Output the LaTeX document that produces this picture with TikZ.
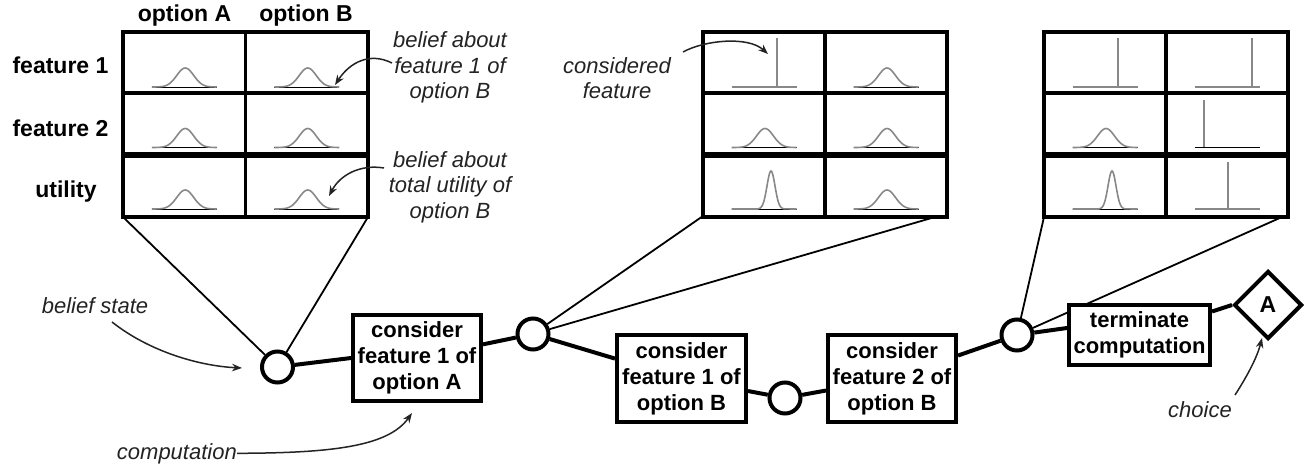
\documentclass[tikz,border=0pt]{standalone}
\usepackage{fontspec}
\setmainfont{Liberation Sans}
\newfontfamily\annotfont{Liberation Sans Italic}
\usetikzlibrary{arrows.meta,shapes.geometric}
\pgfdeclarelayer{background}
\pgfsetlayers{background,main}
\definecolor{curvegray}{RGB}{136,136,136}
\definecolor{annotcol}{RGB}{35,35,35}

\newcommand\gausscell[5]{%
  \pgfmathsetmacro\gdom{3.5*#4}%
  \draw[axisline] ({#1-32.5},#2) -- ({#1+32.5},#2);
  \draw[curve] ({#1-32.5},#2) -- ({#1+#3-\gdom},#2)
     -- plot[domain=-\gdom:\gdom, samples=41, smooth] ({#1+#3+\x},{#2-#5*exp(-(\x*\x)/(2*#4*#4))})
     -- ({#1+32.5},#2);
}
\newcommand\spikecell[5]{%
  \draw[#5] ({#1-32.5},#2) -- ({#1+32.5},#2);
  \draw[curve] ({#1+#3},#2) -- ({#1+#3},{#2-#4});
}
\newcommand\drawgridframe[3]{%
  \draw[gridline] (#1,32) rectangle (#2,217);
  \draw[gridline] (#3,32) -- (#3,217);
  \draw[gridline] (#1,93) -- (#2,93);
  \draw[gridline, line width=6pt] (#1,155.5) -- (#2,155.5);
}

\begin{document}
\begin{tikzpicture}[x=1pt, y=-1pt,
  gridline/.style={line width=3.5pt},
  axisline/.style={line width=0.7pt, black},
  curve/.style={line width=1.6pt, curvegray},
  state/.style={circle, draw, fill=white, line width=4pt, minimum size=31pt, inner sep=0pt},
  comp/.style={draw, fill=white, line width=4pt, inner sep=0pt, align=center, font=\fontsize{22}{26}\selectfont\bfseries},
  choicenode/.style={diamond, aspect=1, draw, fill=white, line width=4pt, minimum width=68pt, minimum height=68pt, inner sep=0pt, font=\fontsize{23}{26}\selectfont\bfseries},
  hdr/.style={font=\fontsize{23}{26}\selectfont\bfseries, inner sep=0pt, anchor=base},
  annot/.style={font=\annotfont\fontsize{22}{25.5}\selectfont, text=annotcol, align=center, inner sep=0pt},
  link/.style={line width=4pt},
  zoomline/.style={line width=1.8pt},
  note/.style={line width=1.5pt, annotcol, -{Stealth[length=10pt, width=7.5pt]}}
]
\useasboundingbox (0,0) rectangle (1312,468);

% headers and row labels
\node[hdr] (hA) at (184.5,22) {option A};
\node[hdr] (hB) at (306,22) {option B};
\node[hdr] (r1) at (60.5,74) {feature 1};
\node[hdr] (r2) at (60.5,137) {feature 2};
\node[hdr] (r3) at (66,197) {utility};

% grids
\drawgridframe{123}{368}{245.5}
\drawgridframe{703}{947}{825}
\drawgridframe{1044}{1288}{1166}

% grid 1 cells
\gausscell{184.25}{87}{1}{8.5}{19}
\gausscell{306.75}{87}{1}{8.5}{19}
\gausscell{184.25}{147.5}{1}{8.5}{19}
\gausscell{306.75}{147.5}{1}{8.5}{19}
\gausscell{184.25}{209}{1}{8.5}{19}
\gausscell{306.75}{209}{1}{8.5}{19}
% grid 2 cells
\spikecell{764}{87}{13}{49}{curve}
\gausscell{886}{87}{1}{8.5}{19}
\gausscell{764}{147.5}{1}{8.5}{19}
\gausscell{886}{147.5}{1}{8.5}{19}
\gausscell{764}{209}{7}{4}{38}
\gausscell{886}{209}{1}{8.5}{19}
% grid 3 cells
\spikecell{1105}{87}{13}{49}{curve}
\spikecell{1227}{87}{25}{49}{curve}
\gausscell{1105}{147.5}{1}{8.5}{19}
\spikecell{1227}{147.5}{-23}{47}{axisline}
\gausscell{1105}{209}{7}{4}{38}
\spikecell{1227}{209}{1}{47}{curve}

% grid corners
\coordinate (g1l) at (123,217);
\coordinate (g1r) at (368,217);
\coordinate (g2l) at (703,216);
\coordinate (g2r) at (935,217);
\coordinate (g3l) at (1044,217);
\coordinate (g3r) at (1282,217);

% process nodes
\node[state] (c1) at (277.5,367) {};
\node[comp, minimum width=128pt, minimum height=86pt] (b1) at (417,358) {consider\\feature 1 of\\option A};
\node[state] (c2) at (533,334) {};
\node[comp, minimum width=129pt, minimum height=87pt] (b2) at (681.5,378.5) {consider\\feature 1 of\\option B};
\node[state] (c3) at (785,398) {};
\node[comp, minimum width=128pt, minimum height=87pt] (b3) at (892,378.5) {consider\\feature 2 of\\option B};
\node[state] (c4) at (1017,335) {};
\node[comp, minimum width=141pt, minimum height=60pt] (b4) at (1139.5,335) {terminate\\computation};
\node[choicenode] (d) at (1268,305) {A};

% zoom lines
\begin{pgfonlayer}{background}
\draw[zoomline] (g1l) -- (c1);
\draw[zoomline] (g1r) -- (c1);
\draw[zoomline] (g2l) -- (c2);
\draw[zoomline] (g2r) -- (c2);
\draw[zoomline] (g3l) -- (c4);
\draw[zoomline] (g3r) -- (c4);
\end{pgfonlayer}

% links
\draw[link] (c1) -- (b1.west);
\draw[link] (b1) -- (c2);
\draw[link] (c2) -- (b2);
\draw[link] (b2) -- (c3);
\draw[link] (c3) -- (b3);
\draw[link] (b3) -- (c4);
\draw[link] (c4) -- ([yshift=7pt]b4.west);
\draw[link] (b4) -- (d.west);

% annotations
\node[annot] (n1) at (450,67.5) {belief about\\feature 1 of\\option B};
\node[annot] (n2) at (450,187) {belief about\\total utility of\\option B};
\node[annot] (n3) at (617,78) {considered\\feature};
\node[annot, anchor=base] (n4) at (95,313) {belief state};
\node[annot, anchor=base east] (n5) at (237,459) {computation};
\node[annot, anchor=base] (n6) at (1200,417) {choice};

\coordinate (s1) at (392,63);
\coordinate (t1) at (335,85);
\coordinate (s2) at (384,168);
\coordinate (t2) at (329,196);
\coordinate (s3) at (683,52);
\coordinate (t3) at (768,54);
\coordinate (s4) at (112,322);
\coordinate (t4) at (242,368);
\coordinate (t5) at (412,413);
\coordinate (s6) at (1235,395);
\coordinate (t6) at (1262,338);

\draw[note] (s1) .. controls (370,52) and (350,62) .. (t1);
\draw[note] (s2) .. controls (360,164) and (340,175) .. (t2);
\draw[note] (s3) .. controls (705,40) and (748,36) .. (t3);
\draw[note] (s4) .. controls (150,352) and (200,366) .. (t4);
\draw[note] (n5.east) .. controls (330,453) and (388,447) .. (t5);
\draw[note] (s6) .. controls (1246,378) and (1257,358) .. (t6);
\end{tikzpicture}
\end{document}
